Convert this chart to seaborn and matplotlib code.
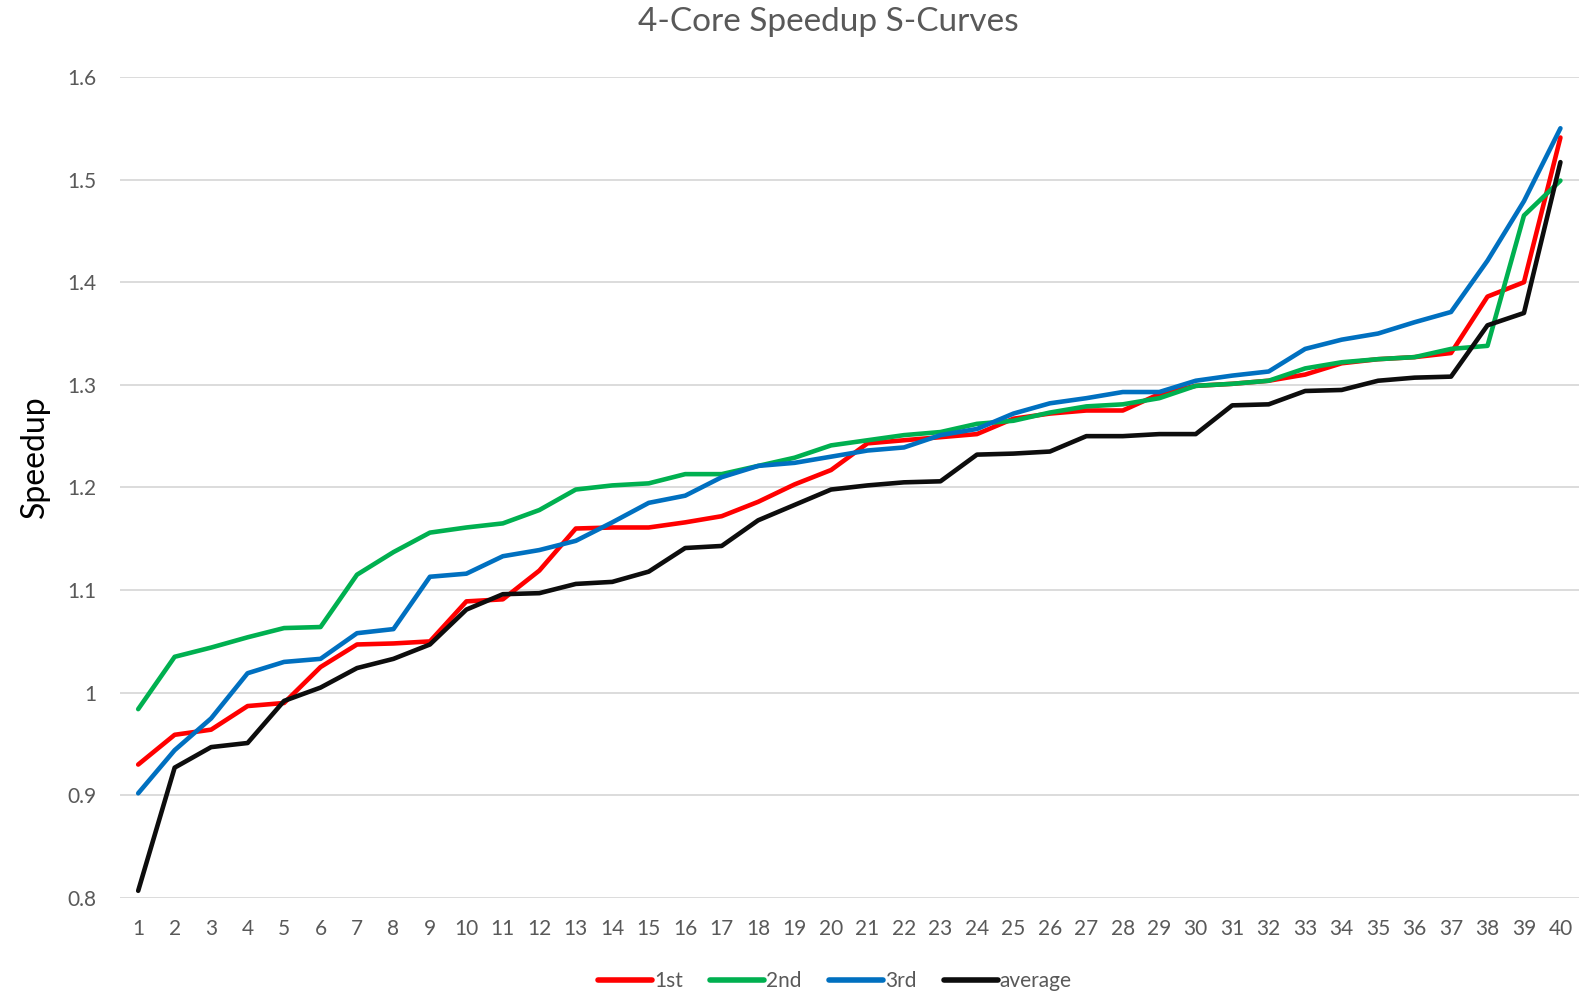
import numpy as np
import pandas as pd
import matplotlib
matplotlib.use("Agg")
import matplotlib.pyplot as plt
import seaborn as sns

# workload index (sorted by speedup)
workloads = list(range(1, 41))

first = [0.930, 0.959, 0.964, 0.987, 0.990, 1.025, 1.047, 1.048, 1.050, 1.089,
         1.091, 1.119, 1.160, 1.161, 1.161, 1.166, 1.172, 1.186, 1.203, 1.217,
         1.243, 1.246, 1.249, 1.252, 1.267, 1.272, 1.275, 1.275, 1.291, 1.299,
         1.301, 1.304, 1.310, 1.321, 1.325, 1.327, 1.331, 1.386, 1.400, 1.541]
second = [0.984, 1.035, 1.044, 1.054, 1.063, 1.064, 1.115, 1.137, 1.156, 1.161,
          1.165, 1.178, 1.198, 1.202, 1.204, 1.213, 1.213, 1.221, 1.229, 1.241,
          1.246, 1.251, 1.254, 1.262, 1.265, 1.273, 1.279, 1.281, 1.287, 1.299,
          1.301, 1.304, 1.316, 1.322, 1.325, 1.327, 1.335, 1.338, 1.465, 1.499]
third = [0.902, 0.944, 0.975, 1.019, 1.030, 1.033, 1.058, 1.062, 1.113, 1.116,
         1.133, 1.139, 1.148, 1.166, 1.185, 1.192, 1.210, 1.221, 1.224, 1.230,
         1.236, 1.239, 1.251, 1.257, 1.272, 1.282, 1.287, 1.293, 1.293, 1.304,
         1.309, 1.313, 1.335, 1.344, 1.350, 1.361, 1.371, 1.421, 1.479, 1.550]
average = [0.807, 0.927, 0.947, 0.951, 0.992, 1.005, 1.024, 1.033, 1.047, 1.081,
           1.096, 1.097, 1.106, 1.108, 1.118, 1.141, 1.143, 1.168, 1.183, 1.198,
           1.202, 1.205, 1.206, 1.232, 1.233, 1.235, 1.250, 1.250, 1.252, 1.252,
           1.280, 1.281, 1.294, 1.295, 1.304, 1.307, 1.308, 1.358, 1.370, 1.517]

series_names = ["1st", "2nd", "3rd", "average"]
colors = ["#FF0000", "#00B050", "#0070C0", "#0D0D0D"]

table = pd.DataFrame({"workload": workloads * 4,
                      "speedup": first + second + third + average,
                      "run": np.repeat(series_names, len(workloads))})

sns.set_style("white")
plt.rcParams["font.family"] = ["Lato", "DejaVu Sans"]

fig = plt.figure(figsize=(15.93, 9.93), dpi=100)
ax = fig.add_axes([0.0753, 0.0957, 0.9157, 0.8268])

sns.lineplot(data=table, x="workload", y="speedup", hue="run",
             palette=dict(zip(series_names, colors)), linewidth=3.3,
             solid_capstyle="round", ax=ax)

ax.set_xlim(0.5, 40.5)
ax.set_ylim(0.8, 1.6)
ax.set_xticks(workloads)
ax.set_yticks([0.8, 0.9, 1.0, 1.1, 1.2, 1.3, 1.4, 1.5, 1.6])
ax.set_yticklabels(["0.8", "0.9", "1", "1.1", "1.2", "1.3", "1.4", "1.5", "1.6"])
ax.tick_params(axis="both", labelsize=15, labelcolor="#595959", length=0)
ax.tick_params(axis="x", pad=15)
ax.tick_params(axis="y", pad=17)
ax.grid(axis="y", color="#D9D9D9", linewidth=1.3)
ax.set_axisbelow(True)
for s in ax.spines.values():
    s.set_visible(False)

ax.set_xlabel("")
ax.set_ylabel("Speedup", fontsize=23, color="black")
ax.yaxis.set_label_coords(-0.048, 0.537)
fig.text(0.52, 0.9775, "4-Core Speedup S-Curves", fontsize=24,
         color="#595959", ha="center", va="center")

sns.move_legend(ax, "center", bbox_to_anchor=(0.49, -0.101), ncol=4,
                frameon=False, title=None, fontsize=15, handlelength=2.6,
                handletextpad=0.1, columnspacing=1.3, labelcolor="#595959")
for line in ax.get_legend().get_lines():
    line.set_linewidth(4)
    line.set_solid_capstyle("round")

fig.savefig("out.png", dpi=100)
